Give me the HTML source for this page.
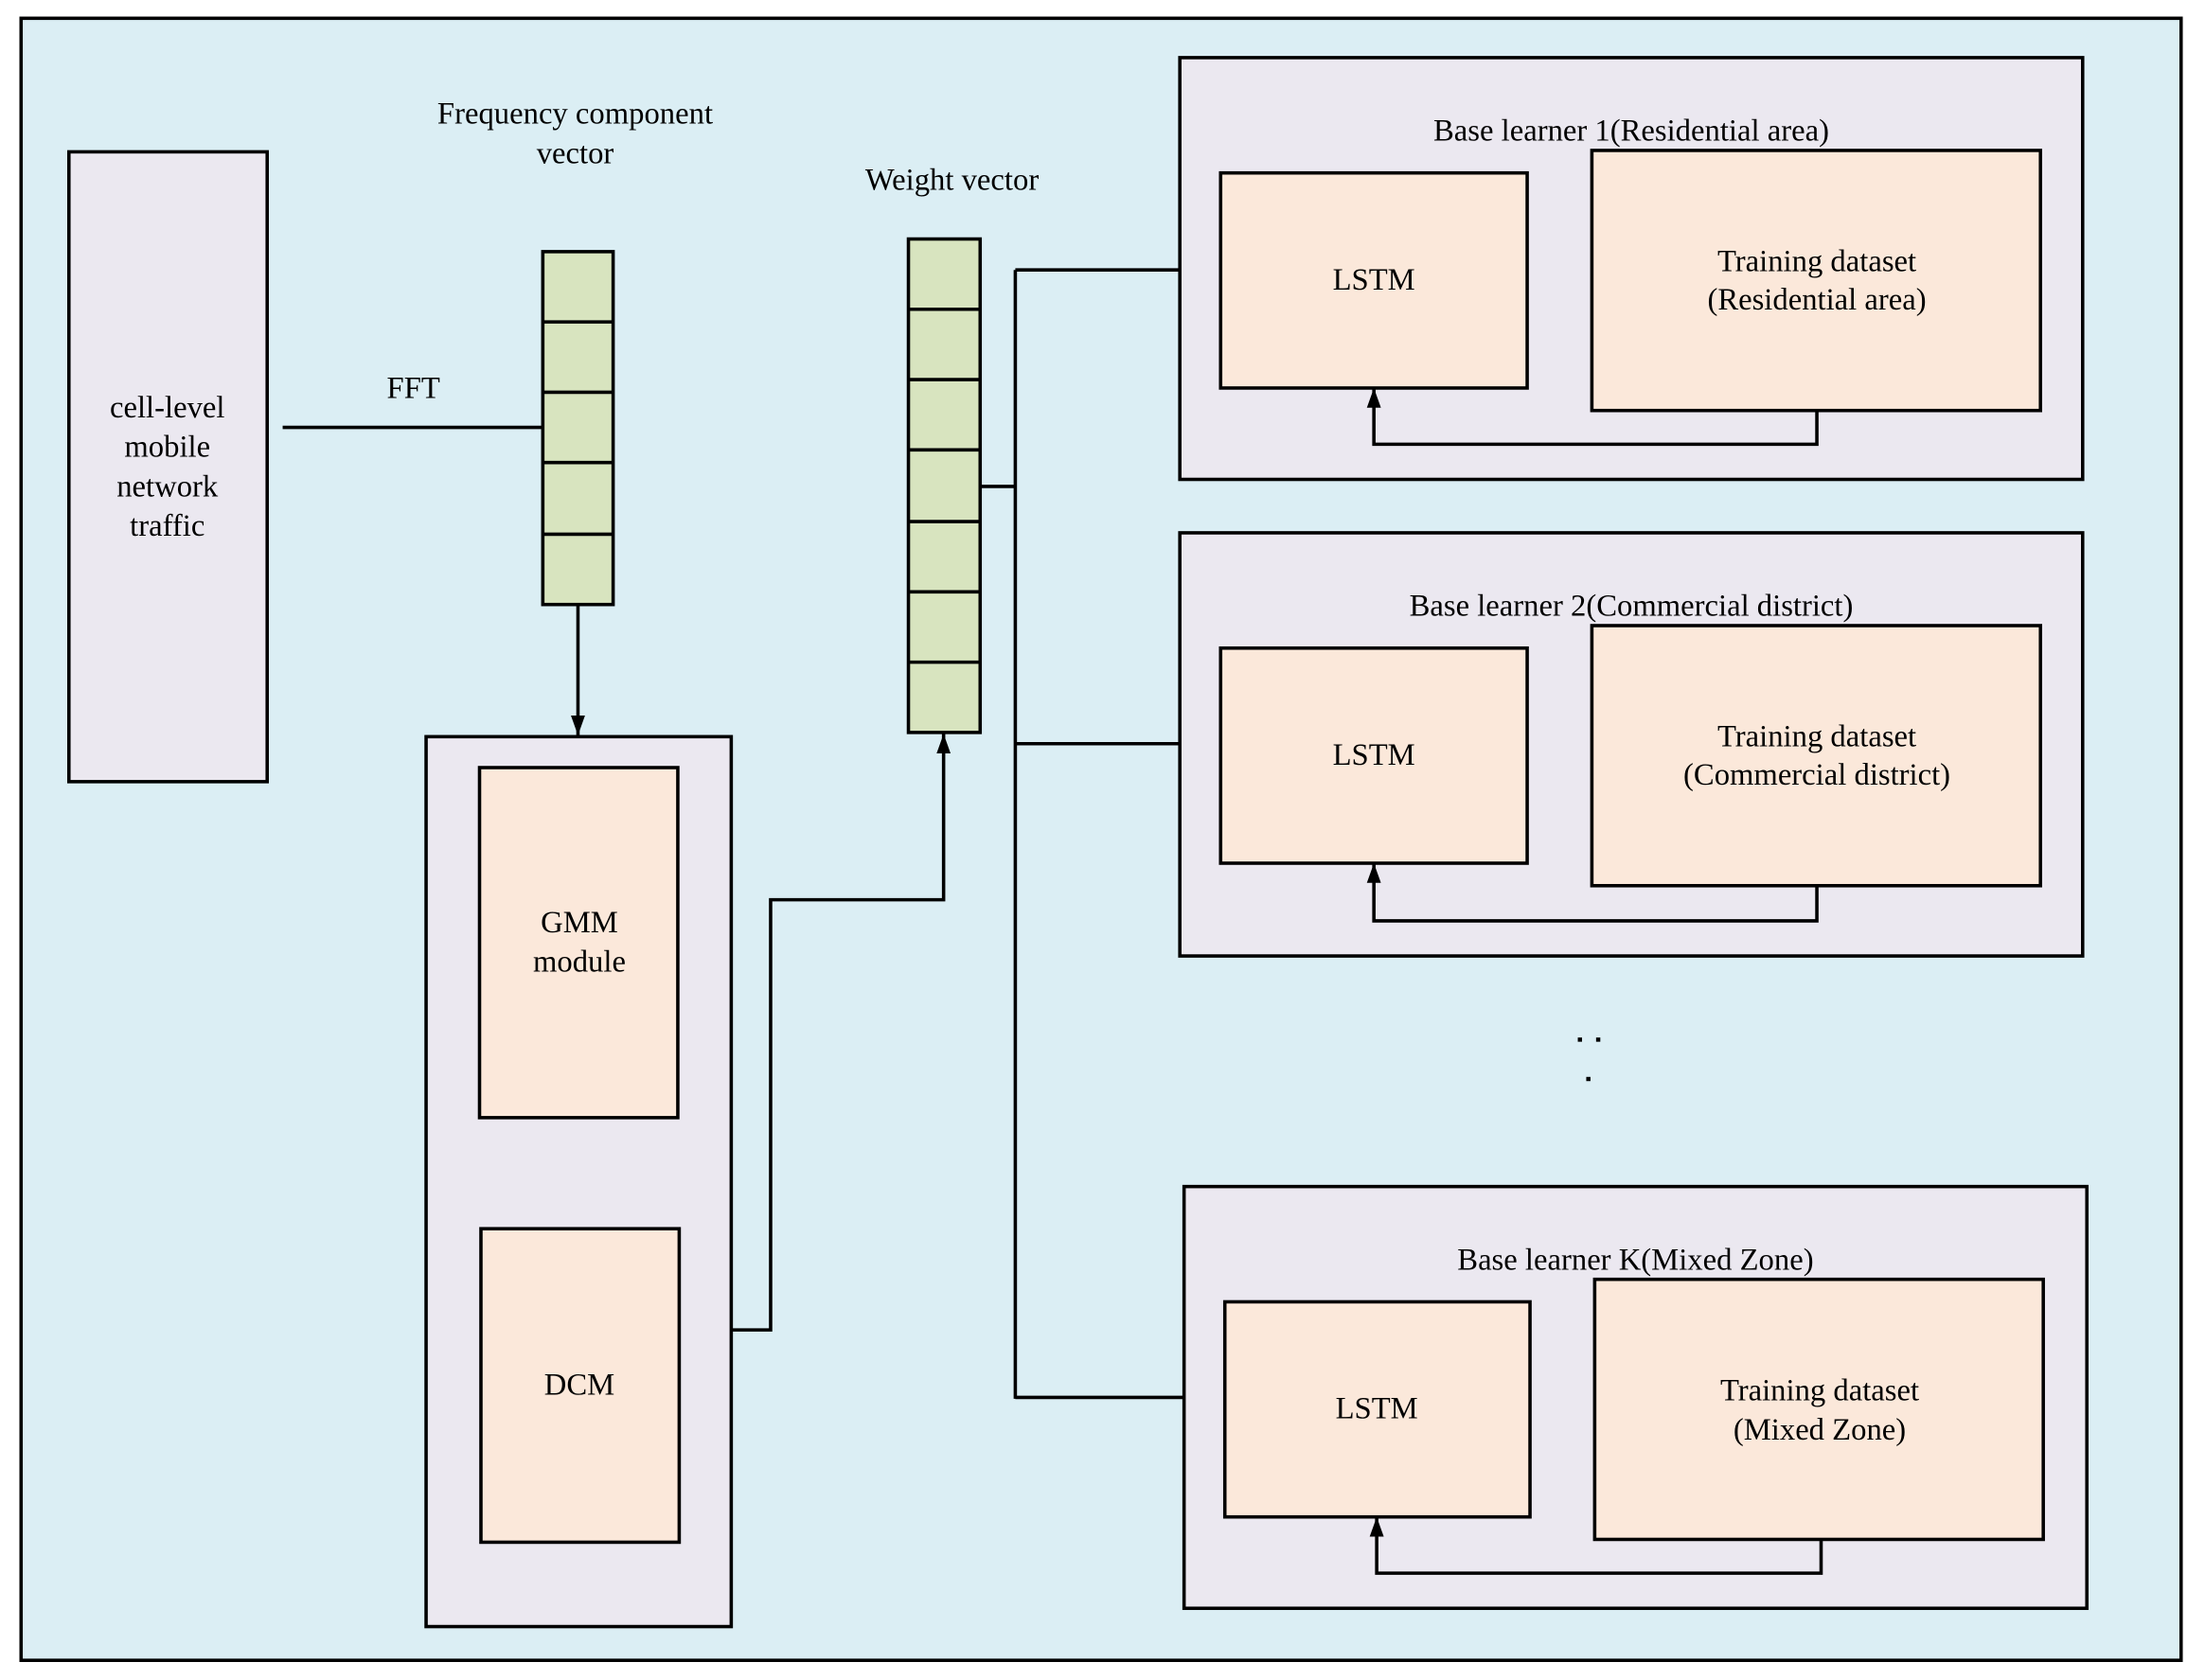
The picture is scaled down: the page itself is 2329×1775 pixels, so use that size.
<!DOCTYPE html>
<html><head><style>html,body{margin:0;padding:0;background:#fff}svg{display:block}</style></head>
<body>
<svg width="2329" height="1775" viewBox="0 0 1568 1195" preserveAspectRatio="none" xmlns="http://www.w3.org/2000/svg">
<defs>
<marker id="b" viewBox="0 0 14 10" refX="14" refY="5" markerWidth="14" markerHeight="10" orient="auto" markerUnits="userSpaceOnUse"><path d="M0,0 L14,5 L0,10 z" fill="#000"/></marker></defs>
<g stroke="#000" stroke-width="2.4">
<rect x="15" y="13" width="1536" height="1168" fill="#dbeef4"/>
<rect x="49" y="108" width="141" height="448" fill="#ebe8f0"/>
<line x1="201" y1="304" x2="386" y2="304"/>
<rect x="386" y="179" width="50" height="251" fill="#d8e4bf"/>
<line x1="386" y1="229" x2="436" y2="229"/><line x1="386" y1="279" x2="436" y2="279"/><line x1="386" y1="329" x2="436" y2="329"/><line x1="386" y1="380" x2="436" y2="380"/>
<line x1="411" y1="430" x2="411" y2="523" marker-end="url(#b)"/>
<rect x="303" y="524" width="217" height="633" fill="#ebe8f0"/>
<rect x="341" y="546" width="141" height="249" fill="#fbe8da"/>
<rect x="342" y="874" width="141" height="223" fill="#fbe8da"/>
<polyline points="520,946 548,946 548,640 671,640 671,522" fill="none" marker-end="url(#b)"/>
<rect x="646" y="170" width="51" height="351" fill="#d8e4bf"/>
<line x1="646" y1="220" x2="697" y2="220"/><line x1="646" y1="270" x2="697" y2="270"/><line x1="646" y1="320" x2="697" y2="320"/><line x1="646" y1="371" x2="697" y2="371"/><line x1="646" y1="421" x2="697" y2="421"/><line x1="646" y1="471" x2="697" y2="471"/>
<line x1="697" y1="346" x2="722" y2="346"/>
<line x1="722" y1="192" x2="722" y2="995"/>
<line x1="722" y1="192" x2="839" y2="192"/><line x1="722" y1="529" x2="839" y2="529"/><line x1="722" y1="994" x2="842" y2="994"/>
<rect x="839" y="41" width="642" height="300" fill="#ebe8f0"/>
<rect x="868" y="123" width="218" height="153" fill="#fbe8da"/>
<rect x="1132" y="107" width="319" height="185" fill="#fbe8da"/>
<polyline points="1292,292 1292,316 977,316 977,276" fill="none" marker-end="url(#b)"/>
<rect x="839" y="379" width="642" height="301" fill="#ebe8f0"/>
<rect x="868" y="461" width="218" height="153" fill="#fbe8da"/>
<rect x="1132" y="445" width="319" height="185" fill="#fbe8da"/>
<polyline points="1292,630 1292,655 977,655 977,614" fill="none" marker-end="url(#b)"/>
<rect x="842" y="844" width="642" height="300" fill="#ebe8f0"/>
<rect x="871" y="926" width="217" height="153" fill="#fbe8da"/>
<rect x="1134" y="910" width="319" height="185" fill="#fbe8da"/>
<polyline points="1295,1095 1295,1119 979,1119 979,1079" fill="none" marker-end="url(#b)"/>
</g>
<g fill="#000"><rect x="1122" y="738" width="3" height="3"/><rect x="1135" y="738" width="3" height="3"/><rect x="1128" y="766" width="3" height="3"/></g>
<g font-family="Liberation Serif, Times New Roman, serif" font-size="22" text-anchor="middle" fill="#000">
<text x="119" y="297">cell-level</text><text x="119" y="325">mobile</text><text x="119" y="353">network</text><text x="119" y="381">traffic</text>
<text x="409" y="88">Frequency component</text><text x="409" y="116">vector</text>
<text x="294" y="283">FFT</text>
<text x="677" y="135">Weight vector</text>
<text x="412" y="663">GMM</text><text x="412" y="691">module</text>
<text x="412" y="992">DCM</text>
<text x="1160" y="100">Base learner 1(Residential area)</text>
<text x="977" y="206">LSTM</text>
<text x="1292" y="193">Training dataset</text><text x="1292" y="220">(Residential area)</text>
<text x="1160" y="438">Base learner 2(Commercial district)</text>
<text x="977" y="544">LSTM</text>
<text x="1292" y="531">Training dataset</text><text x="1292" y="558">(Commercial district)</text>
<text x="1163" y="903">Base learner K(Mixed Zone)</text>
<text x="979" y="1009">LSTM</text>
<text x="1294" y="996">Training dataset</text><text x="1294" y="1024">(Mixed Zone)</text>
</g>
</svg>
</body></html>
